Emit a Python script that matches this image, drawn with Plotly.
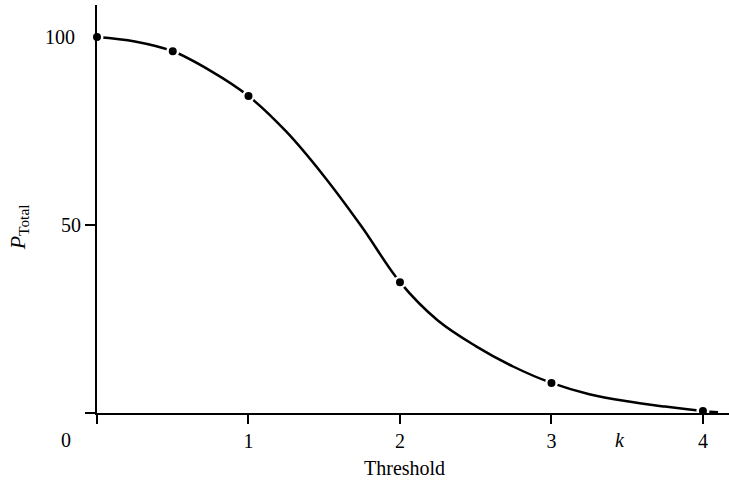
import plotly.graph_objects as go

# Smooth curve
curve_k = [0, 0.25, 0.5, 0.75, 1.0, 1.25, 1.5, 1.75, 2.0, 2.25, 2.5, 2.75, 3.0, 3.25, 3.5, 3.75, 4.0, 4.1]
curve_p = [100, 98.8, 96.2, 91.0, 84.3, 74.8, 62.9, 49.4, 34.8, 24.6, 17.8, 12.3, 8.0, 5.0, 3.1, 1.7, 0.5, 0.2]

# Measured points
point_k = [0, 0.5, 1, 2, 3, 4]
point_p = [100, 96.2, 84.3, 34.8, 8.0, 0.5]

x_ticks = [0, 1, 2, 3, 4]
x_tick_text = ["", "1", "2", "3", "4"]
y_ticks = [0, 50]
y_tick_text = ["", "50"]

FONT = "Liberation Serif"

fig = go.Figure()
fig.add_trace(go.Scatter(x=curve_k, y=curve_p, mode="lines",
                         line=dict(color="black", width=2.5, shape="spline", smoothing=1.0),
                         cliponaxis=False, hoverinfo="skip"))
fig.add_trace(go.Scatter(x=point_k, y=point_p, mode="markers",
                         marker=dict(color="black", size=10.5, line=dict(color="white", width=2.5)),
                         cliponaxis=False))

fig.update_layout(
    width=729, height=487,
    margin=dict(l=97, r=0, t=5, b=74),
    plot_bgcolor="white", paper_bgcolor="white",
    showlegend=False,
    font=dict(family=FONT, size=20, color="black"),
    xaxis=dict(range=[0, 4.172], showline=True, linecolor="black", linewidth=2,
               tickvals=x_ticks, ticktext=x_tick_text, ticks="outside", ticklen=9, tickwidth=2,
               tickcolor="black", showgrid=False, zeroline=False,
               tickfont=dict(family=FONT, size=20)),
    yaxis=dict(range=[0, 108.5], showline=True, linecolor="black", linewidth=2,
               tickvals=y_ticks, ticktext=y_tick_text, ticks="outside", ticklen=10, tickwidth=2,
               tickcolor="black", showgrid=False, zeroline=False,
               tickfont=dict(family=FONT, size=20)),
    annotations=[
        dict(x=0, y=100, xref="x", yref="y", text="100", showarrow=False, xanchor="right", yanchor="middle",
             xshift=-20, font=dict(family=FONT, size=20)),
        dict(x=0, y=0, xref="x", yref="y", text="0", showarrow=False, xanchor="center", yanchor="top",
             xshift=-31, yshift=-14, font=dict(family=FONT, size=20)),
        dict(x=3.45, y=0, xref="x", yref="y", text="<i>k</i>", showarrow=False, xanchor="center", yanchor="top",
             yshift=-14, font=dict(family=FONT, size=20)),
        dict(x=0.5, y=0, xref="paper", yref="paper", text="Threshold", showarrow=False, xanchor="center",
             yanchor="top", xshift=-9, yshift=-42, font=dict(family=FONT, size=20)),
        dict(x=0, y=0.455, xref="paper", yref="paper", text="<i>P</i><sub>Total</sub>", showarrow=False,
             textangle=-90, xanchor="center", yanchor="middle", xshift=-78, font=dict(family=FONT, size=22)),
    ],
)

fig.write_html("out.html", config={"displayModeBar": False},
               post_script="document.body.style.margin='0';")
